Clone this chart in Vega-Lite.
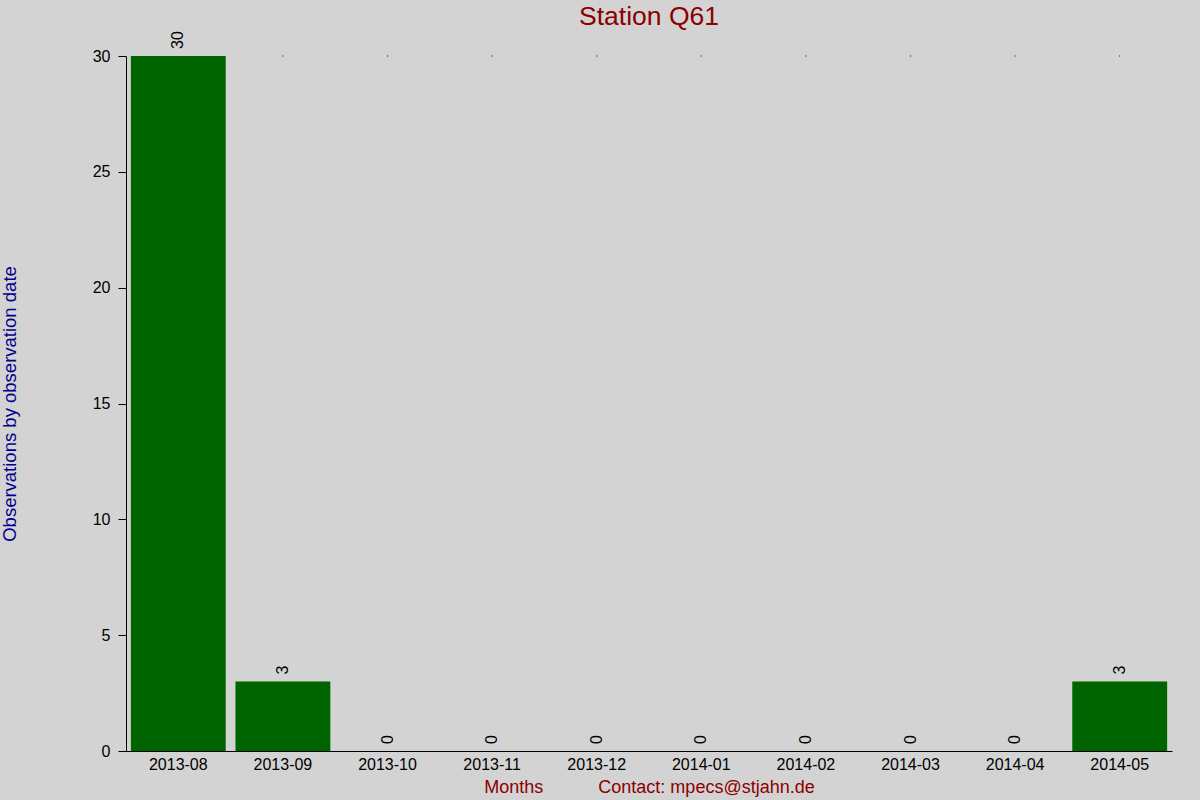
{
  "$schema": "https://vega.github.io/schema/vega-lite/v6.json",
  "width": 1046,
  "height": 695,
  "autosize": "none",
  "padding": {"left": 126, "top": 56, "right": 28, "bottom": 49},
  "background": "#d3d3d3",
  "title": {
    "text": "Station Q61",
    "color": "#8b0000",
    "fontSize": 26.5,
    "font": "Liberation Sans",
    "fontWeight": "normal",
    "anchor": "middle",
    "frame": "group",
    "offset": 1
  },
  "data": {
    "values": [
      {"month": "2013-08", "count": 30},
      {"month": "2013-09", "count": 3},
      {"month": "2013-10", "count": 0},
      {"month": "2013-11", "count": 0},
      {"month": "2013-12", "count": 0},
      {"month": "2014-01", "count": 0},
      {"month": "2014-02", "count": 0},
      {"month": "2014-03", "count": 0},
      {"month": "2014-04", "count": 0},
      {"month": "2014-05", "count": 3}
    ]
  },
  "encoding": {
    "x": {
      "field": "month",
      "type": "ordinal",
      "scale": {"paddingInner": 0.093, "paddingOuter": 0.0465},
      "axis": {
        "title": "Months\u00a0\u00a0\u00a0\u00a0\u00a0\u00a0\u00a0\u00a0\u00a0\u00a0\u00a0Contact: mpecs@stjahn.de",
        "titleColor": "#8b0000",
        "titleFontSize": 18,
        "titleFontWeight": "normal",
        "titleFont": "Liberation Sans",
        "titlePadding": 6,
        "labelAngle": 0,
        "labelFontSize": 16,
        "labelFont": "Liberation Sans",
        "labelColor": "#000000",
        "labelPadding": 5,
        "ticks": false,
        "domainColor": "#000000",
        "grid": false
      }
    },
    "y": {
      "field": "count",
      "type": "quantitative",
      "scale": {"domain": [0, 30], "nice": false},
      "axis": {
        "title": "Observations by observation date",
        "titleColor": "#00008b",
        "titleFontSize": 18.5,
        "titleFontWeight": "normal",
        "titleFont": "Liberation Sans",
        "titlePadding": 73,
        "values": [0, 5, 10, 15, 20, 25, 30],
        "labelFontSize": 16,
        "labelFont": "Liberation Sans",
        "labelColor": "#000000",
        "labelPadding": 8,
        "tickSize": 8,
        "tickColor": "#000000",
        "domainColor": "#000000",
        "grid": false
      }
    }
  },
  "layer": [
    {"mark": {"type": "bar", "color": "#006400"}},
    {
      "transform": [{"filter": "datum.count < 30"}],
      "mark": {"type": "square", "color": "#000000", "size": 1, "opacity": 1},
      "encoding": {"y": {"datum": 30}}
    },
    {
      "mark": {
        "type": "text",
        "angle": -90,
        "align": "left",
        "baseline": "middle",
        "dx": 7,
        "fontSize": 16,
        "font": "Liberation Sans",
        "color": "#000000"
      },
      "encoding": {"text": {"field": "count", "type": "quantitative"}}
    }
  ],
  "config": {"view": {"stroke": null}}
}
